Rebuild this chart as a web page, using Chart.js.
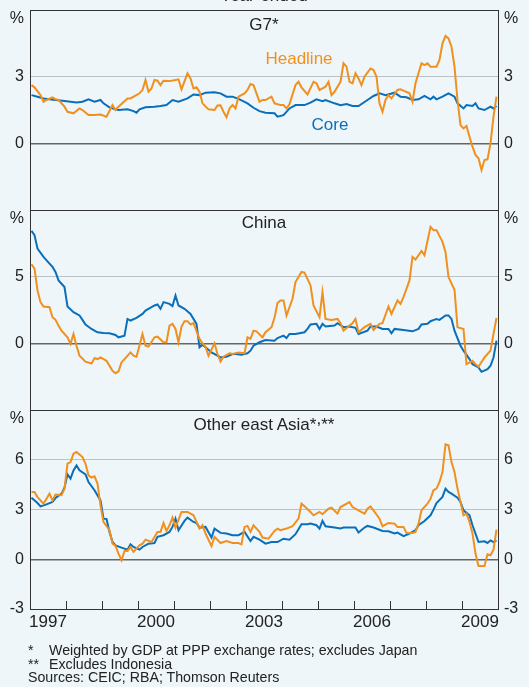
<!DOCTYPE html>
<html>
<head>
<meta charset="utf-8">
<script src="https://cdn.jsdelivr.net/npm/chart.js"></script>
<style>
  body { margin: 0; background: #eef6f9; }
  #wrap { position: relative; width: 529px; height: 687px; overflow: hidden;
          font-family: Arial, "Liberation Sans", sans-serif; color: #222; }
  #wrap canvas { position: absolute; left: 0; top: -20px; }
  .lbl { position: absolute; white-space: nowrap; font-size: 17px; line-height: 20px; transform: translateX(-50%); }
  .note { position: absolute; white-space: nowrap; font-size: 14.2px; line-height: 14px; }
</style>
</head>
<body>
<div id="wrap">
  <canvas id="c1" width="529" height="707"></canvas>
  <canvas id="c2" width="529" height="707"></canvas>
  <canvas id="c3" width="529" height="707"></canvas>

  <div class="lbl" style="left:264px; top:-14px;">Year-ended</div>
  <div class="lbl" style="left:264px; top:15px;">G7*</div>
  <div class="lbl" style="left:299px; top:49px; color:#f0901e;">Headline</div>
  <div class="lbl" style="left:330px; top:115px; color:#0a6fba;">Core</div>
  <div class="lbl" style="left:264px; top:213px;">China</div>
  <div class="lbl" style="left:264px; top:415px;">Other east Asia*<span style="position:relative; top:-6px;">,</span>**</div>

  <div class="note" style="left:28px; top:643px;">*</div>
  <div class="note" style="left:49px; top:643px;">Weighted by GDP at PPP exchange rates; excludes Japan</div>
  <div class="note" style="left:28px; top:657px;">**</div>
  <div class="note" style="left:49px; top:657px;">Excludes Indonesia</div>
  <div class="note" style="left:28px; top:670px;">Sources: CEIC; RBA; Thomson Reuters</div>
</div>
<script>
// months counted from Jan 1997 (0) to Dec 2009 (155)
const g7HeadM = [0,1,3,4,5,7,8,9,11,12,14,16,17,19,21,23,25,27,28,29,32,33,36,37,38,39,40,41,42,43,44,46,48,49,50,52,53,54,55,56,57,59,61,62,63,64,65,66,67,68,69,71,72,73,74,76,77,78,80,81,83,84,85,86,88,89,90,92,94,95,96,98,99,100,101,103,104,105,106,107,108,109,110,111,113,114,115,116,117,118,119,120,122,123,124,126,127,128,130,131,132,133,135,136,137,138,139,140,141,142,143,144,145,146,147,148,149,150,151,152,153,154,155];
const g7Head = [2.62,2.52,2.17,1.87,1.95,2.07,1.98,1.95,1.65,1.42,1.35,1.57,1.5,1.27,1.27,1.3,1.2,1.72,1.5,1.65,2.02,2.02,2.25,2.4,2.85,2.32,2.47,2.85,2.82,2.62,2.82,2.8,2.85,2.88,2.43,3.15,2.92,2.47,2.52,2.32,1.8,1.53,1.5,1.7,1.71,1.42,1.17,1.57,1.72,1.57,2.1,2.25,2.4,2.67,2.62,1.87,1.95,1.95,2.1,1.8,1.72,1.72,1.57,1.77,2.62,2.77,2.52,2.2,2.77,2.7,2.4,2.55,2.77,2.17,2.32,2.77,3.6,3.45,2.77,2.7,3.15,2.92,2.62,3.0,3.37,3.3,3.0,1.8,1.42,1.95,2.17,2.02,2.4,2.43,2.37,2.25,1.87,2.7,3.6,3.52,3.6,3.45,3.45,3.75,4.5,4.83,4.72,4.35,3.45,1.95,0.82,0.67,0.78,0.3,-0.15,-0.52,-0.67,-1.2,-0.75,-0.72,0.0,1.2,2.1];
const g7CoreM = [0,2,4,6,8,11,13,15,17,19,21,23,24,26,28,29,32,34,35,36,38,41,43,45,47,49,52,54,56,58,61,63,65,67,69,72,74,76,78,81,82,84,86,88,91,93,95,97,98,101,103,105,107,109,112,114,116,118,121,123,125,127,129,131,133,134,135,137,139,141,142,144,145,147,148,149,151,153,154,155];
const g7Core = [2.17,2.1,2.02,1.98,1.95,1.9,1.87,1.84,1.87,1.98,1.87,1.95,1.8,1.62,1.53,1.5,1.53,1.45,1.38,1.53,1.62,1.65,1.68,1.72,1.95,1.87,2.02,2.2,2.17,2.28,2.3,2.25,2.1,2.1,2.0,1.8,1.6,1.45,1.38,1.35,1.2,1.27,1.57,1.72,1.72,1.83,1.98,1.9,1.95,1.8,1.72,1.77,1.68,1.68,1.95,2.13,2.25,2.17,2.28,2.1,2.07,1.95,1.98,2.13,1.98,2.1,1.98,2.1,2.25,2.1,1.8,1.57,1.72,1.68,1.8,1.57,1.5,1.65,1.57,1.68];

const cnHeadM = [0,1,2,3,4,6,7,8,9,10,12,13,14,15,16,18,20,21,22,23,25,27,28,29,30,31,33,34,35,37,38,39,41,42,44,45,46,47,48,49,50,51,52,53,54,56,57,58,59,61,62,63,64,66,67,69,71,72,73,74,75,77,78,80,81,82,83,84,85,87,88,90,91,93,94,96,97,98,100,102,103,104,106,107,108,109,111,113,114,116,117,119,120,122,123,124,126,127,128,130,131,133,134,135,137,138,139,141,142,144,145,147,148,149,151,153,154,155];
const cnHead = [5.93,5.6,3.97,3.09,2.76,2.71,1.96,1.76,1.33,0.95,0.45,-0.05,0.7,-0.18,-0.93,-1.38,-1.51,-1.11,-1.18,-1.06,-1.31,-2.06,-2.24,-2.11,-1.43,-1.18,-0.68,-0.93,-1.0,0.7,-0.18,-0.25,0.45,0.5,0.08,0.08,1.33,1.46,1.08,0.08,1.26,1.66,1.66,1.41,1.51,0.33,0.0,-0.25,-0.93,0.0,-0.8,-1.36,-1.0,-0.75,-0.8,-0.68,-0.75,0.45,0.33,0.95,0.9,0.45,0.83,1.21,1.91,3.02,3.22,3.22,2.09,3.34,4.6,5.35,5.3,4.35,2.84,1.96,3.84,1.83,1.76,1.83,1.51,0.95,1.33,1.51,1.83,0.83,1.21,1.46,1.0,1.46,1.51,2.76,2.21,3.22,2.96,3.47,4.72,6.48,6.28,6.93,6.61,8.74,8.49,8.49,7.61,6.86,4.97,4.02,1.21,1.08,-1.56,-1.31,-1.56,-1.76,-1.06,-0.55,0.7,1.91];
const cnCoreM = [0,1,2,4,6,7,8,9,11,12,14,16,17,18,20,22,24,26,28,29,31,32,33,35,37,38,41,42,43,44,46,47,48,49,51,53,55,56,57,58,60,62,63,65,67,68,70,72,73,74,76,78,81,82,84,85,86,88,91,92,93,95,96,97,98,101,102,104,106,108,109,112,113,115,117,119,120,121,124,127,129,130,132,133,135,136,138,139,140,141,143,144,146,147,149,150,152,153,154,155];
const cnCore = [8.44,8.12,7.11,6.48,5.98,5.73,5.35,4.72,4.22,2.76,2.34,2.09,1.76,1.41,1.08,0.83,0.78,0.75,0.63,0.45,0.58,1.83,1.71,1.91,2.21,2.46,2.84,2.91,2.59,3.09,2.96,2.79,3.59,2.84,2.59,2.21,1.46,-0.3,-0.1,-0.3,-0.68,-0.93,-1.06,-1.0,-0.8,-0.8,-0.85,-0.75,-0.55,-0.18,0.08,0.25,0.2,0.4,0.58,0.4,0.7,0.7,0.83,1.08,1.41,1.46,1.08,1.46,1.26,1.33,1.51,1.21,1.26,1.16,0.7,0.95,1.26,1.26,1.08,1.08,0.75,1.08,1.0,0.9,1.08,1.41,1.46,1.66,1.83,1.76,2.09,2.09,1.83,0.95,-0.18,-0.55,-1.18,-1.56,-1.81,-2.14,-1.94,-1.68,-1.06,0.2];

const eaHeadM = [0,1,2,4,5,6,7,8,10,11,12,13,14,15,17,18,19,20,21,22,23,24,26,27,28,29,30,31,32,33,34,36,37,38,40,42,43,44,45,46,47,48,50,52,54,55,56,57,58,60,61,63,65,67,69,70,71,72,73,74,76,77,79,81,82,83,85,87,89,90,91,93,94,96,97,99,100,102,103,106,107,109,111,112,113,114,116,117,119,121,122,124,125,127,128,129,130,132,133,134,135,136,137,138,139,140,141,142,144,145,146,147,148,149,151,152,153,154,155];
const eaHead = [4.06,4.06,3.75,3.35,3.65,3.96,3.55,3.9,3.86,4.26,5.76,5.86,6.37,6.47,6.16,5.76,5.06,4.92,5.0,4.56,3.25,2.25,1.75,0.94,0.8,0.34,-0.06,0.5,0.5,0.74,0.44,0.84,0.94,1.18,1.04,1.65,1.65,2.19,1.71,2.05,2.51,1.91,2.85,2.85,2.65,2.25,1.85,2.05,1.55,0.8,1.35,0.98,1.1,0.98,0.98,0.9,1.95,2.01,1.65,2.05,1.65,1.31,1.24,1.71,1.85,1.75,1.85,1.99,2.45,3.35,3.19,2.85,2.65,2.85,2.71,3.05,3.11,2.75,3.15,3.45,3.15,2.95,2.75,3.05,3.19,2.95,2.45,1.99,2.19,2.15,1.95,1.95,1.59,1.59,1.65,2.15,2.95,3.35,3.65,4.16,4.26,4.66,5.26,6.93,6.87,5.86,5.26,4.26,2.65,2.75,2.25,1.55,0.34,-0.4,-0.4,0.3,0.24,0.58,1.79];
const eaCoreM = [0,2,3,5,7,8,10,11,12,13,14,15,16,18,19,21,23,24,25,26,27,28,30,32,33,34,36,37,39,41,42,44,46,47,48,49,51,52,54,55,56,58,60,61,63,65,67,69,71,73,74,76,78,80,82,84,86,88,90,92,93,95,96,97,98,101,103,104,106,108,109,111,112,114,117,119,121,122,124,126,128,129,131,133,134,135,137,138,139,140,142,143,144,146,147,148,149,151,152,153,154,155];
const eaCore = [3.71,3.39,3.19,3.31,3.45,3.69,3.96,4.32,5.12,4.86,5.36,5.66,5.36,5.12,4.66,4.16,3.55,2.45,2.43,1.65,1.04,0.84,0.7,0.58,0.9,0.74,0.58,0.74,0.94,0.98,1.35,1.45,1.65,1.95,2.45,1.75,2.31,2.51,2.25,2.19,1.91,1.95,1.31,1.85,1.59,1.55,1.45,1.45,1.65,1.1,1.35,1.18,0.94,1.04,1.04,1.24,1.18,1.51,2.11,2.11,2.15,2.05,1.85,2.31,1.99,1.91,1.85,1.91,1.91,1.91,1.61,1.91,2.01,1.91,1.71,1.69,1.55,1.61,1.39,1.55,1.75,2.05,2.31,2.65,2.99,3.39,3.76,4.26,4.06,3.96,3.71,3.45,2.95,2.65,2.05,1.55,1.04,1.08,0.98,1.14,1.04,1.14];

const xLabels = [1997, 2000, 2003, 2006, 2009];

const FONT = 'Arial, "Liberation Sans", sans-serif';
const ORANGE = '#f0901e';
const BLUE = '#0a6fba';

const toPoints = (ms, vs) => ms.map((m, i) => ({ x: 1997 + (m + 0.5) / 12, y: vs[i] }));

function makePanel(id, areaTop, areaBottom, yMin, yMax, step, head, core, last) {
  const label = v => v === yMax ? ['', '%'] : (v === yMin && !last ? '' : String(v));
  const tickFont = { family: FONT, size: 16, lineHeight: 1.05 };
  const gridColor = c => {
    const v = c.tick.value;
    if (v === yMin || v === yMax) return '#333';
    if (v === 0) return '#666';
    return '#b9c2c6';
  };
  const yAxis = (pos, w) => ({
    type: 'linear', position: pos, min: yMin, max: yMax,
    ticks: { stepSize: step, color: '#222', font: tickFont, padding: 6, callback: label },
    grid: { drawOnChartArea: pos === 'left', drawTicks: false, color: gridColor,
            lineWidth: c => c.tick.value === 0 ? 1.5 : 1 },
    border: { display: true, color: '#333' },
    afterFit: s => { s.width = w; }
  });
  const x = last ? {
    type: 'linear', min: 1997, max: 2010,
    ticks: { stepSize: 1, autoSkip: false, maxRotation: 0, labelOffset: 18, padding: 11,
             color: '#222', font: { family: FONT, size: 17 },
             callback: v => xLabels.includes(v) ? String(v) : '' },
    grid: { drawOnChartArea: false, tickLength: -8, color: '#333' },
    border: { display: true, color: '#333' },
    afterFit: s => { s.height = 26; }
  } : { type: 'linear', min: 1997, max: 2010, display: false };

  new Chart(document.getElementById(id), {
    type: 'line',
    data: {
      datasets: [
        { label: 'Headline', data: head, borderColor: ORANGE, borderWidth: 2, pointRadius: 0, tension: 0, yAxisID: 'y' },
        { label: 'Core', data: core, borderColor: BLUE, borderWidth: 2, pointRadius: 0, tension: 0, yAxisID: 'y' }
      ]
    },
    options: {
      responsive: false, animation: false, events: [],
      layout: { padding: { top: areaTop + 20, bottom: 687 - areaBottom - (last ? 26 : 0), left: 0, right: 0 } },
      plugins: { legend: { display: false }, tooltip: { enabled: false } },
      scales: { x: x, y: yAxis('left', 30), y2: yAxis('right', 31) }
    }
  });
}

makePanel('c1', 10, 210, -3, 6, 3, toPoints(g7HeadM, g7Head), toPoints(g7CoreM, g7Core), false);
makePanel('c2', 210, 410, -5, 10, 5, toPoints(cnHeadM, cnHead), toPoints(cnCoreM, cnCore), false);
makePanel('c3', 410, 609, -3, 9, 3, toPoints(eaHeadM, eaHead), toPoints(eaCoreM, eaCore), true);
</script>
</body>
</html>
